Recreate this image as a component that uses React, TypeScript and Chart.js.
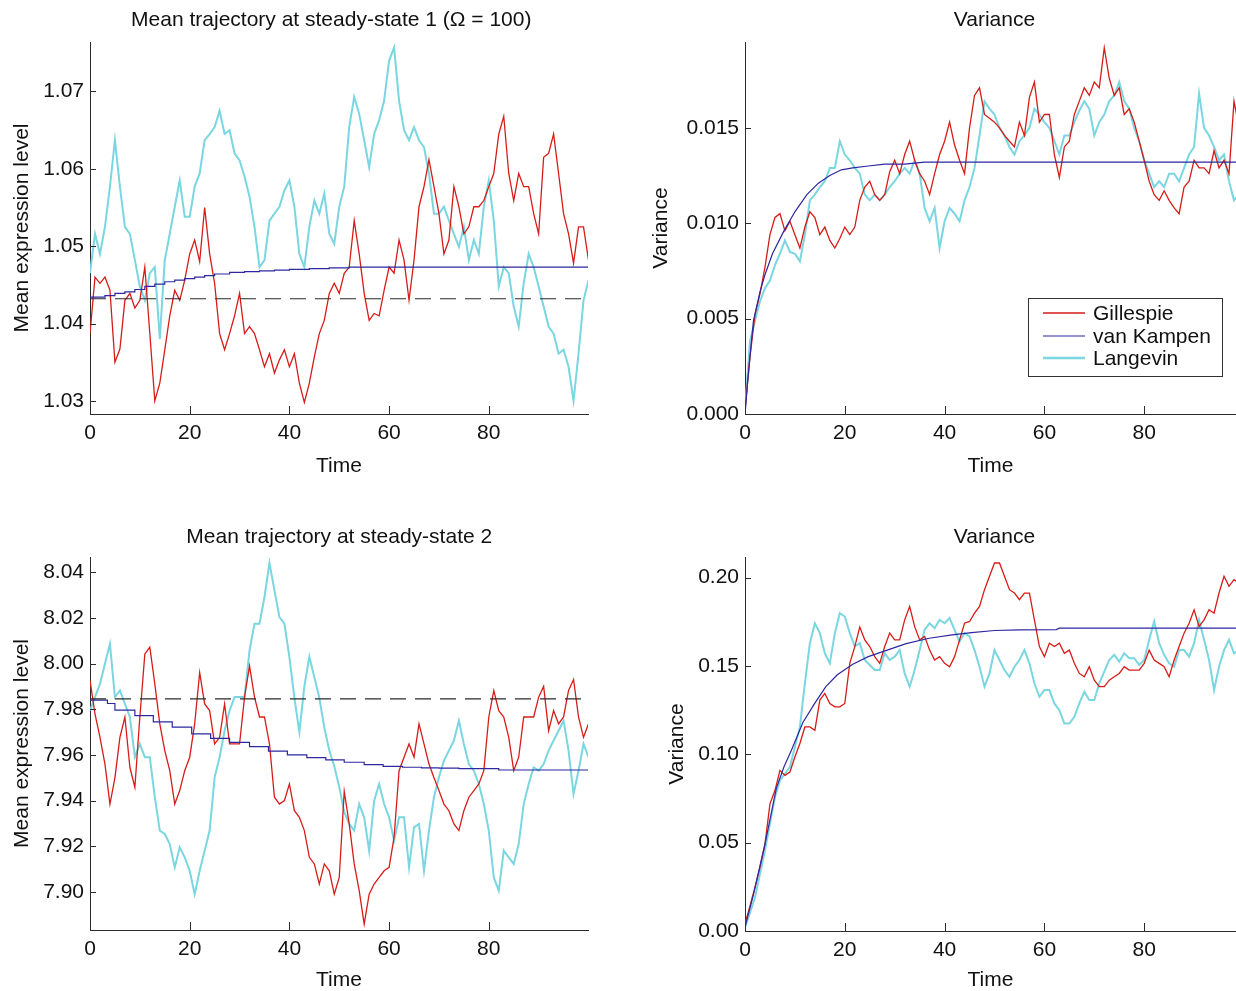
import React, { useEffect, useRef } from "react";
import { Chart, registerables } from "chart.js";

Chart.register(...registerables);

const FONT_FAMILY = "'Liberation Sans', Arial, Helvetica, sans-serif";
const TEXT_COLOR = "#111111";
const AXIS_COLOR = "#2b2b2b";
const RED = "rgb(214, 28, 24)";
const CYAN = "rgb(122, 214, 224)";
const BLUE = "rgb(45, 40, 160)";
const DASH = "#2a2a2a";

Chart.defaults.font.family = FONT_FAMILY;
Chart.defaults.color = TEXT_COLOR;

const SERIES_NAMES = ["Gillespie", "van Kampen", "Langevin"];
const TITLES = [
  "Mean trajectory at steady-state 1 (\u03A9 = 100)",
  "Variance",
  "Mean trajectory at steady-state 2",
  "Variance",
];
const X_LABEL = "Time";
const Y_LABELS = ["Mean expression level", "Variance", "Mean expression level", "Variance"];
const X_TICKS = [0, 20, 40, 60, 80];

// time grid (categories) of the sampled trajectories
const TIME_MEAN = Array.from({ length: 101 }, (_, i) => i);
const TIME_VAR = Array.from({ length: 100 }, (_, i) => i);

// ---- Panel 1: mean, steady-state 1 ----
const G1 = [
  1.0387, 1.0460, 1.0452, 1.0460, 1.0443, 1.0350, 1.0367, 1.0430, 1.0439, 1.0420,
  1.0430, 1.0473, 1.0387, 1.0300, 1.0323, 1.0366, 1.0410, 1.0443, 1.0430, 1.0456,
  1.0490, 1.0508, 1.0480, 1.0550, 1.0490, 1.0452, 1.0387, 1.0366, 1.0387, 1.0410,
  1.0439, 1.0387, 1.0396, 1.0387, 1.0366, 1.0344, 1.0361, 1.0336, 1.0353, 1.0366,
  1.0344, 1.0361, 1.0323, 1.0298, 1.0323, 1.0357, 1.0387, 1.0404, 1.0439, 1.0452,
  1.0439, 1.0465, 1.0473, 1.0533, 1.0490, 1.0439, 1.0404, 1.0413, 1.0410, 1.0443,
  1.0473, 1.0465, 1.0508, 1.0482, 1.0430, 1.0482, 1.0551, 1.0577, 1.0612, 1.0577,
  1.0542, 1.0490, 1.0508, 1.0577, 1.0551, 1.0516, 1.0525, 1.0551, 1.0551, 1.0559,
  1.0577, 1.0594, 1.0645, 1.0668, 1.0594, 1.0559, 1.0594, 1.0577, 1.0577, 1.0542,
  1.0516, 1.0615, 1.0620, 1.0645, 1.0594, 1.0542, 1.0516, 1.0478, 1.0525, 1.0525, 1.0482,
];
const L1 = [
  1.0465, 1.0516, 1.0490, 1.0525, 1.0577, 1.0637, 1.0577, 1.0525, 1.0516, 1.0482,
  1.0448, 1.0430, 1.0465, 1.0473, 1.0380, 1.0482, 1.0516, 1.0551, 1.0585, 1.0538,
  1.0538, 1.0577, 1.0594, 1.0637, 1.0645, 1.0654, 1.0675, 1.0645, 1.0650, 1.0620,
  1.0611, 1.0590, 1.0564, 1.0525, 1.0473, 1.0482, 1.0533, 1.0542, 1.0551, 1.0572,
  1.0585, 1.0551, 1.0490, 1.0473, 1.0525, 1.0559, 1.0542, 1.0568, 1.0516, 1.0503,
  1.0551, 1.0577, 1.0654, 1.0693, 1.0671, 1.0637, 1.0602, 1.0645, 1.0663, 1.0688,
  1.0740, 1.0757, 1.0688, 1.0650, 1.0637, 1.0654, 1.0637, 1.0628, 1.0594, 1.0542,
  1.0542, 1.0551, 1.0533, 1.0516, 1.0499, 1.0525, 1.0482, 1.0508, 1.0490, 1.0551,
  1.0585, 1.0533, 1.0448, 1.0473, 1.0465, 1.0422, 1.0396, 1.0452, 1.0490, 1.0473,
  1.0448, 1.0422, 1.0396, 1.0387, 1.0361, 1.0366, 1.0344, 1.0300, 1.0361, 1.0430, 1.0456,
];
const VK1_T = [0, 3, 5, 7, 9, 11, 13, 15, 17, 19, 21, 23, 25, 28, 31, 34, 37, 40, 44, 48, 52, 60, 100];
const VK1 = [
  1.0432, 1.0434, 1.0436, 1.0439, 1.0441, 1.0444, 1.0448, 1.0451, 1.0454, 1.0456,
  1.0458, 1.0460, 1.0462, 1.0464, 1.0466, 1.0467, 1.0468, 1.0469, 1.0470, 1.0471,
  1.0472, 1.0473, 1.0473,
];
const STEADY1 = 1.0432;

// ---- Panel 2: variance, steady-state 1 ----
const G2 = [
  0.0002, 0.0030, 0.0052, 0.0063, 0.0077, 0.0094, 0.0103, 0.0105, 0.0096, 0.0101,
  0.0094, 0.0087, 0.0098, 0.0106, 0.0103, 0.0094, 0.0098, 0.0091, 0.0087, 0.0092,
  0.0098, 0.0094, 0.0098, 0.0112, 0.0119, 0.0122, 0.0115, 0.0112, 0.0115, 0.0127,
  0.0133, 0.0126, 0.0136, 0.0143, 0.0133, 0.0126, 0.0122, 0.0115, 0.0126, 0.0136,
  0.0143, 0.0153, 0.0141, 0.0133, 0.0126, 0.0150, 0.0167, 0.0171, 0.0157, 0.0155,
  0.0153, 0.0150, 0.0146, 0.0143, 0.0140, 0.0153, 0.0146, 0.0166, 0.0174, 0.0153,
  0.0157, 0.0157, 0.0136, 0.0124, 0.0140, 0.0143, 0.0157, 0.0164, 0.0171, 0.0167,
  0.0174, 0.0171, 0.0192, 0.0176, 0.0167, 0.0171, 0.0157, 0.0160, 0.0153, 0.0143,
  0.0133, 0.0122, 0.0115, 0.0112, 0.0117, 0.0112, 0.0108, 0.0105, 0.0119, 0.0122,
  0.0133, 0.0129, 0.0129, 0.0126, 0.0138, 0.0129, 0.0133, 0.0126, 0.0164, 0.0150,
];
const L2 = [
  0.0002, 0.0038, 0.0049, 0.0059, 0.0066, 0.0070, 0.0078, 0.0084, 0.0091, 0.0085,
  0.0084, 0.0080, 0.0094, 0.0112, 0.0115, 0.0119, 0.0122, 0.0129, 0.0129, 0.0143,
  0.0136, 0.0133, 0.0129, 0.0126, 0.0115, 0.0112, 0.0115, 0.0112, 0.0115, 0.0119,
  0.0122, 0.0126, 0.0129, 0.0126, 0.0133, 0.0126, 0.0108, 0.0101, 0.0108, 0.0087,
  0.0101, 0.0108, 0.0105, 0.0101, 0.0112, 0.0119, 0.0129, 0.0146, 0.0164, 0.0160,
  0.0157, 0.0150, 0.0146, 0.0140, 0.0136, 0.0143, 0.0146, 0.0150, 0.0160, 0.0157,
  0.0153, 0.0150, 0.0143, 0.0136, 0.0146, 0.0146, 0.0153, 0.0159, 0.0164, 0.0160,
  0.0146, 0.0153, 0.0157, 0.0164, 0.0167, 0.0174, 0.0164, 0.0160, 0.0150, 0.0143,
  0.0133, 0.0126, 0.0119, 0.0122, 0.0119, 0.0126, 0.0126, 0.0122, 0.0129, 0.0136,
  0.0140, 0.0168, 0.0150, 0.0146, 0.0140, 0.0133, 0.0136, 0.0122, 0.0112, 0.0115,
];
const VK2_T = [0, 0.5, 1, 1.7, 3, 4, 5.5, 7.8, 10, 12.4, 14.7, 17, 19.3, 21.6, 24.7, 28, 32, 36, 99];
const VK2 = [
  0, 0.0016, 0.0030, 0.0049, 0.0064, 0.0073, 0.0084, 0.0096, 0.0106, 0.0115,
  0.0121, 0.0125, 0.0128, 0.0129, 0.0130, 0.0131, 0.0131, 0.0132, 0.0132,
];

// ---- Panel 3: mean, steady-state 2 ----
const G3 = [
  7.9926, 7.9780, 7.9677, 7.9560, 7.9385, 7.9500, 7.9677, 7.9766, 7.9546, 7.9458,
  7.9766, 8.0042, 8.0071, 7.9911, 7.9736, 7.9619, 7.9531, 7.9385, 7.9444, 7.9531,
  7.9590, 7.9736, 7.9960, 7.9823, 7.9794, 7.9648, 7.9677, 7.9823, 7.9648, 7.9648,
  7.9648, 7.9853, 7.9990, 7.9853, 7.9766, 7.9766, 7.9648, 7.9415, 7.9385, 7.9400,
  7.9473, 7.9356, 7.9327, 7.9269, 7.9152, 7.9123, 7.9035, 7.9123, 7.9093, 7.8991,
  7.9064, 7.9440, 7.9298, 7.9123, 7.9006, 7.8860, 7.8991, 7.9035, 7.9064, 7.9093,
  7.9108, 7.9240, 7.9531, 7.9590, 7.9648, 7.9590, 7.9736, 7.9648, 7.9560, 7.9500,
  7.9444, 7.9385, 7.9356, 7.9298, 7.9269, 7.9356, 7.9415, 7.9444, 7.9473, 7.9531,
  7.9766, 7.9882, 7.9794, 7.9766, 7.9677, 7.9531, 7.9590, 7.9766, 7.9766, 7.9766,
  7.9853, 7.9900, 7.9706, 7.9794, 7.9736, 7.9766, 7.9882, 7.9930, 7.9766, 7.9677, 7.9736,
];
const L3 = [
  7.9794, 7.9853, 7.9911, 7.9999, 8.0086, 7.9853, 7.9882, 7.9823, 7.9766, 7.9590,
  7.9648, 7.9590, 7.9590, 7.9415, 7.9269, 7.9254, 7.9210, 7.9108, 7.9196, 7.9152,
  7.9093, 7.8991, 7.9093, 7.9181, 7.9269, 7.9502, 7.9590, 7.9706, 7.9794, 7.9853,
  7.9853, 7.9853, 8.0057, 8.0174, 8.0174, 8.0291, 8.0440, 8.0320, 8.0203, 8.0174,
  8.0028, 7.9850, 7.9700, 7.9900, 8.0030, 7.9940, 7.9850, 7.9720, 7.9620, 7.9550,
  7.9460, 7.9350, 7.9298, 7.9269, 7.9385, 7.9327, 7.9180, 7.9400, 7.9473, 7.9385,
  7.9327, 7.9225, 7.9327, 7.9327, 7.9108, 7.9283, 7.9298, 7.9093, 7.9269, 7.9415,
  7.9502, 7.9575, 7.9619, 7.9663, 7.9750, 7.9648, 7.9560, 7.9531, 7.9473, 7.9385,
  7.9269, 7.9064, 7.9006, 7.9181, 7.9152, 7.9123, 7.9210, 7.9385, 7.9473, 7.9546,
  7.9531, 7.9560, 7.9619, 7.9663, 7.9706, 7.9750, 7.9619, 7.9429, 7.9531, 7.9648, 7.9590,
];
const VK3_T = [0, 3.5, 5, 9, 12.7, 16.5, 20.4, 24.2, 28, 32, 35.8, 39.6, 43.5, 47.3, 51, 55, 58.8, 62.7, 66.5, 70, 74, 82, 85, 100];
const VK3 = [
  7.9845, 7.9840, 7.9825, 7.9796, 7.9772, 7.9745, 7.9722, 7.9692, 7.9672, 7.9655,
  7.9636, 7.9617, 7.9600, 7.9588, 7.9578, 7.9568, 7.9558, 7.9550, 7.9546, 7.9543,
  7.9542, 7.9540, 7.9534, 7.9534,
];
const STEADY2 = 7.9845;

// ---- Panel 4: variance, steady-state 2 ----
const G4 = [
  0.0040, 0.0142, 0.0246, 0.0360, 0.0492, 0.0720, 0.0795, 0.0909, 0.0881, 0.0900,
  0.0985, 0.1061, 0.1155, 0.1155, 0.1136, 0.1307, 0.1345, 0.1288, 0.1269, 0.1269,
  0.1288, 0.1515, 0.1610, 0.1720, 0.1648, 0.1610, 0.1553, 0.1515, 0.1610, 0.1686,
  0.1648, 0.1648, 0.1761, 0.1837, 0.1723, 0.1648, 0.1667, 0.1590, 0.1534, 0.1553,
  0.1515, 0.1496, 0.1553, 0.1648, 0.1742, 0.1752, 0.1799, 0.1837, 0.1932, 0.2008,
  0.2083, 0.2083, 0.2008, 0.1932, 0.1913, 0.1875, 0.1913, 0.1913, 0.1761, 0.1610,
  0.1553, 0.1629, 0.1610, 0.1629, 0.1572, 0.1590, 0.1515, 0.1458, 0.1439, 0.1496,
  0.1420, 0.1383, 0.1383, 0.1420, 0.1439, 0.1458, 0.1496, 0.1477, 0.1477, 0.1477,
  0.1515, 0.1590, 0.1534, 0.1515, 0.1496, 0.1439, 0.1534, 0.1610, 0.1686, 0.1742,
  0.1818, 0.1723, 0.1761, 0.1818, 0.1799, 0.1913, 0.2008, 0.1951, 0.1989, 0.1970,
];
const L4 = [
  0.0020, 0.0104, 0.0189, 0.0322, 0.0455, 0.0606, 0.0758, 0.0852, 0.0890, 0.0928,
  0.1042, 0.1155, 0.1402, 0.1629, 0.1742, 0.1686, 0.1572, 0.1515, 0.1686, 0.1799,
  0.1780, 0.1686, 0.1610, 0.1629, 0.1534, 0.1506, 0.1477, 0.1477, 0.1572, 0.1534,
  0.1553, 0.1590, 0.1458, 0.1383, 0.1477, 0.1590, 0.1705, 0.1742, 0.1714, 0.1761,
  0.1742, 0.1771, 0.1705, 0.1638, 0.1686, 0.1667, 0.1590, 0.1496, 0.1383, 0.1458,
  0.1590, 0.1534, 0.1477, 0.1439, 0.1496, 0.1534, 0.1590, 0.1515, 0.1402, 0.1326,
  0.1364, 0.1364, 0.1288, 0.1250, 0.1174, 0.1174, 0.1212, 0.1288, 0.1354, 0.1307,
  0.1307, 0.1402, 0.1468, 0.1534, 0.1563, 0.1525, 0.1572, 0.1544, 0.1544, 0.1506,
  0.1534, 0.1648, 0.1752, 0.1629, 0.1563, 0.1515, 0.1496, 0.1590, 0.1590, 0.1553,
  0.1629, 0.1761, 0.1648, 0.1534, 0.1364, 0.1496, 0.1590, 0.1648, 0.1572, 0.1590,
];
const VK4_T = [0, 1.7, 4, 6.3, 7.8, 9.3, 11.6, 14, 16.2, 18.5, 21.6, 24.7, 28.5, 32.3, 36.9, 41.5, 45.4, 50, 55, 62.4, 63, 99];
const VK4 = [
  0.0020, 0.0208, 0.0492, 0.0810, 0.0928, 0.1023, 0.1180, 0.1290, 0.1383, 0.1450,
  0.1510, 0.1553, 0.1590, 0.1627, 0.1657, 0.1676, 0.1689, 0.1701, 0.1705, 0.1706,
  0.1714, 0.1714,
];

const pts = (xs: number[], ys: number[]) => ys.map((y, i) => ({ x: xs[i], y }));

function makeDatasets(
  times: number[],
  g: number[],
  l: number[],
  vkT: number[],
  vk: number[],
  steady: number | null,
  vkStepped: boolean,
  xEnd: number
) {
  const ds: any[] = [
    {
      label: SERIES_NAMES[2],
      data: pts(times, l),
      borderColor: CYAN,
      borderWidth: 2,
      pointRadius: 0,
      fill: false,
      tension: 0,
      order: 3,
    },
    {
      label: SERIES_NAMES[0],
      data: pts(times, g),
      borderColor: RED,
      borderWidth: 1.3,
      pointRadius: 0,
      fill: false,
      tension: 0,
      order: 2,
    },
    {
      label: SERIES_NAMES[1],
      data: pts(vkT, vk),
      borderColor: BLUE,
      borderWidth: 1.2,
      pointRadius: 0,
      fill: false,
      stepped: vkStepped ? "after" : false,
      order: 1,
    },
  ];
  if (steady !== null) {
    ds.push({
      label: "steady state",
      data: [
        { x: 0, y: steady },
        { x: xEnd, y: steady },
      ],
      borderColor: DASH,
      borderWidth: 1.2,
      borderDash: [16, 9],
      pointRadius: 0,
      fill: false,
      order: 0,
    });
  }
  return ds;
}

const inwardTicksPlugin = {
  id: "inwardTicks",
  afterDatasetsDraw(chart: any) {
    const { ctx, chartArea, scales } = chart;
    const xs = scales.x;
    const ys = scales.y;
    ctx.save();
    ctx.strokeStyle = AXIS_COLOR;
    ctx.lineWidth = 1;
    ctx.beginPath();
    xs.ticks.forEach((t: any) => {
      const px = Math.round(xs.getPixelForValue(t.value)) + 0.5;
      ctx.moveTo(px, chartArea.bottom);
      ctx.lineTo(px, chartArea.bottom - 8);
    });
    ys.ticks.forEach((t: any) => {
      const py = Math.round(ys.getPixelForValue(t.value)) + 0.5;
      ctx.moveTo(chartArea.left, py);
      ctx.lineTo(chartArea.left + 6, py);
    });
    ctx.stroke();
    ctx.restore();
  },
};

const panelTitlePlugin = {
  id: "panelTitle",
  afterDraw(chart: any, _args: any, opts: any) {
    if (!opts || !opts.text) return;
    const { ctx, scales } = chart;
    ctx.save();
    ctx.font = `21px ${FONT_FAMILY}`;
    ctx.fillStyle = TEXT_COLOR;
    ctx.textAlign = "center";
    ctx.textBaseline = "middle";
    ctx.fillText(opts.text, scales.x.getPixelForValue(opts.centerValue), opts.y);
    ctx.restore();
  },
};

const boxLegendPlugin = {
  id: "boxLegend",
  afterDatasetsDraw(chart: any, _args: any, opts: any) {
    if (!opts || !opts.show) return;
    const { ctx } = chart;
    const { x, y, w, h, rowY, lineX0, lineX1, textX } = opts;
    ctx.save();
    ctx.fillStyle = "#ffffff";
    ctx.fillRect(x, y, w, h);
    ctx.strokeStyle = "#333333";
    ctx.lineWidth = 1;
    ctx.strokeRect(x + 0.5, y + 0.5, w, h);
    const colors = [RED, BLUE, CYAN];
    const widths = [1.5, 1.2, 2.5];
    ctx.font = `21px ${FONT_FAMILY}`;
    ctx.textAlign = "left";
    ctx.textBaseline = "middle";
    SERIES_NAMES.forEach((name, i) => {
      ctx.strokeStyle = colors[i];
      ctx.lineWidth = widths[i];
      ctx.beginPath();
      ctx.moveTo(lineX0, rowY[i]);
      ctx.lineTo(lineX1, rowY[i]);
      ctx.stroke();
      ctx.fillStyle = TEXT_COLOR;
      ctx.fillText(name, textX, rowY[i] + 1);
    });
    ctx.restore();
  },
};

type PanelSpec = {
  left: number;
  top: number;
  width: number;
  height: number;
  title: string;
  titleY: number;
  titleCenter: number;
  padTop: number;
  padRight: number;
  yAxisWidth: number;
  xAxisHeight: number;
  yTitle: string;
  yTitlePad: number;
  xTitlePad: number;
  yMin: number;
  yMax: number;
  yStep: number;
  yDecimals: number;
  xMax: number;
  datasets: any[];
  legend: boolean;
};

const PANELS: PanelSpec[] = [
  {
    left: 0, top: 0, width: 618, height: 495,
    title: TITLES[0], titleY: 20, titleCenter: 48.4, padTop: 42, padRight: 30,
    yAxisWidth: 90, xAxisHeight: 81,
    yTitle: Y_LABELS[0], yTitlePad: 11.5, xTitlePad: 18.5,
    yMin: 1.0283, yMax: 1.0764, yStep: 0.01, yDecimals: 2, xMax: 99.9,
    datasets: makeDatasets(TIME_MEAN, G1, L1, VK1_T, VK1, STEADY1, true, 100),
    legend: false,
  },
  {
    left: 618, top: 0, width: 618, height: 495,
    title: TITLES[1], titleY: 20, titleCenter: 50, padTop: 42, padRight: 0,
    yAxisWidth: 127, xAxisHeight: 81,
    yTitle: Y_LABELS[1], yTitlePad: 32.5, xTitlePad: 18.5,
    yMin: 0, yMax: 0.0195, yStep: 0.005, yDecimals: 3, xMax: 98.4,
    datasets: makeDatasets(TIME_VAR, G2, L2, VK2_T, VK2, null, false, 99),
    legend: true,
  },
  {
    left: 0, top: 495, width: 618, height: 496,
    title: TITLES[2], titleY: 42, titleCenter: 50, padTop: 62, padRight: 30,
    yAxisWidth: 90, xAxisHeight: 61,
    yTitle: Y_LABELS[2], yTitlePad: 11.5, xTitlePad: 0.5,
    yMin: 7.8834, yMax: 8.0466, yStep: 0.02, yDecimals: 2, xMax: 99.9,
    datasets: makeDatasets(TIME_MEAN, G3, L3, VK3_T, VK3, STEADY2, true, 100),
    legend: false,
  },
  {
    left: 618, top: 495, width: 618, height: 496,
    title: TITLES[3], titleY: 42, titleCenter: 50, padTop: 62, padRight: 0,
    yAxisWidth: 127, xAxisHeight: 60,
    yTitle: Y_LABELS[3], yTitlePad: 48.5, xTitlePad: 0.5,
    yMin: 0, yMax: 0.2117, yStep: 0.05, yDecimals: 2, xMax: 98.4,
    datasets: makeDatasets(TIME_VAR, G4, L4, VK4_T, VK4, null, false, 99),
    legend: false,
  },
];

function Panel({ spec }: { spec: PanelSpec }) {
  const ref = useRef<HTMLCanvasElement | null>(null);

  useEffect(() => {
    const canvas = ref.current;
    if (!canvas) return;
    const chart = new Chart(canvas, {
      type: "line",
      data: { datasets: spec.datasets },
      options: {
        responsive: false,
        animation: false,
        devicePixelRatio: 1,
        events: [],
        layout: { padding: { top: spec.padTop, right: spec.padRight, bottom: 0, left: 0 } },
        plugins: {
          legend: { display: false },
          tooltip: { enabled: false },
          title: { display: false },
          panelTitle: { text: spec.title, centerValue: spec.titleCenter, y: spec.titleY },
          boxLegend: {
            show: spec.legend,
            x: 410, y: 298, w: 194, h: 78,
            rowY: [313, 336, 358],
            lineX0: 425, lineX1: 467, textX: 475,
          },
        } as any,
        scales: {
          x: {
            type: "linear",
            min: 0,
            max: spec.xMax,
            grid: { display: false, drawTicks: false },
            border: { display: true, color: AXIS_COLOR, width: 1 },
            afterBuildTicks: (s: any) => {
              s.ticks = X_TICKS.map((v) => ({ value: v }));
            },
            ticks: {
              autoSkip: false,
              maxRotation: 0,
              padding: 7,
              color: TEXT_COLOR,
              font: { size: 21, family: FONT_FAMILY },
              callback: (v: any) => String(Math.round(Number(v))),
            },
            title: {
              display: true,
              text: X_LABEL,
              color: TEXT_COLOR,
              font: { size: 21, family: FONT_FAMILY, lineHeight: 1 },
              padding: { top: 0, bottom: spec.xTitlePad },
            },
            afterFit: (s: any) => {
              s.height = spec.xAxisHeight;
            },
          },
          y: {
            type: "linear",
            min: spec.yMin,
            max: spec.yMax,
            grid: { display: false, drawTicks: false },
            border: { display: true, color: AXIS_COLOR, width: 1 },
            ticks: {
              stepSize: spec.yStep,
              includeBounds: false,
              autoSkip: false,
              padding: 6,
              color: TEXT_COLOR,
              font: { size: 21, family: FONT_FAMILY },
              callback: (v: any) => Number(v).toFixed(spec.yDecimals),
            },
            title: {
              display: true,
              text: spec.yTitle,
              color: TEXT_COLOR,
              font: { size: 21, family: FONT_FAMILY, lineHeight: 1 },
              padding: { top: spec.yTitlePad, bottom: 0 },
            },
            afterFit: (s: any) => {
              s.width = spec.yAxisWidth;
            },
          },
        },
      } as any,
      plugins: [inwardTicksPlugin, panelTitlePlugin, boxLegendPlugin] as any,
    });
    return () => chart.destroy();
  }, [spec]);

  return (
    <div
      style={{
        position: "absolute",
        left: spec.left,
        top: spec.top,
        width: spec.width,
        height: spec.height,
      }}
    >
      <canvas
        ref={ref}
        width={spec.width}
        height={spec.height}
        style={{ width: spec.width, height: spec.height, display: "block" }}
      />
    </div>
  );
}

export default function App() {
  return (
    <div
      style={{
        position: "absolute",
        left: 0,
        top: 0,
        width: 1236,
        height: 991,
        background: "#ffffff",
        overflow: "hidden",
      }}
    >
      {PANELS.map((p, i) => (
        <Panel key={i} spec={p} />
      ))}
    </div>
  );
}
